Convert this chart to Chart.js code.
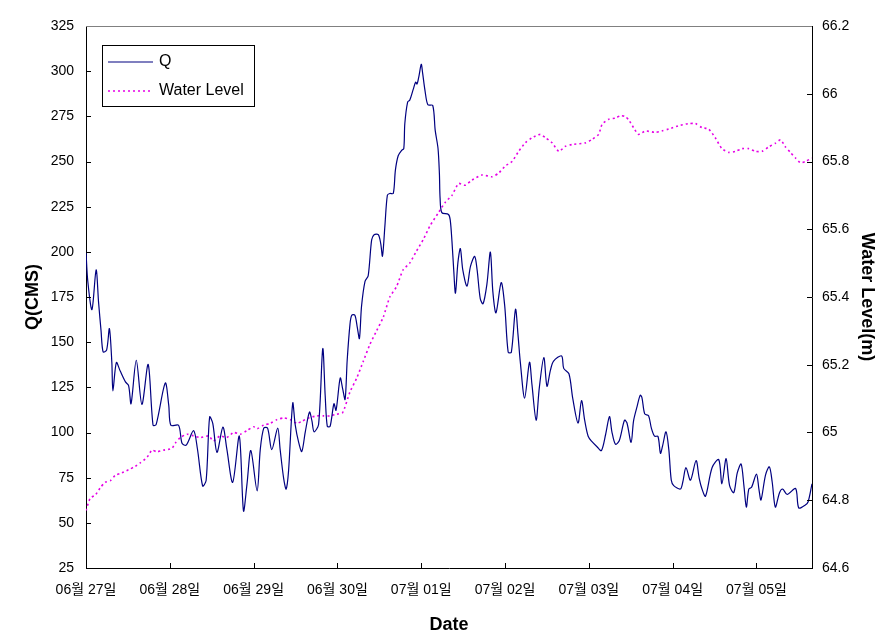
<!DOCTYPE html>
<html>
<head>
<meta charset="utf-8">
<script src="https://cdn.jsdelivr.net/npm/chart.js@4.4.0/dist/chart.umd.min.js"></script>
<style>
  body { margin: 0; background: #fff; }
</style>
</head>
<body>
<canvas id="myChart" width="892" height="641"></canvas>
<script>
// x axis runs in hours from 06/27 00:00
const dayLabels = ['06월 27일', '06월 28일', '06월 29일', '06월 30일', '07월 01일',
  '07월 02일', '07월 03일', '07월 04일', '07월 05일'];

// Q (CMS)
const qHours = [0, 0.5, 1.7, 2.9, 3.6, 4.3, 4.9, 5.9, 6.7, 7.4, 7.7, 8.7, 9.8, 11.3, 12.2, 12.9, 14.4, 16.0,
  17.8, 19.2, 20.1, 22.7, 23.7, 24.3, 26.5, 27.5, 28.7, 30.8, 31.9, 33.4, 34.4, 35.4, 36.3, 37.5, 39.2,
  40.3, 42.0, 43.9, 45.1, 46.1, 47.2, 49.0, 49.9, 50.9, 52.0, 53.2, 54.9, 55.6, 56.6, 57.3, 58.0, 59.2,
  59.9, 60.9, 61.8, 62.8, 64.0, 64.7, 65.3, 66.6, 67.8, 68.5, 69.1, 69.9, 71.0, 71.6, 72.8, 73.5, 74.2,
  74.8, 75.6, 76.1, 77.0, 77.7, 78.3, 78.9, 79.9, 80.8, 81.8, 82.5, 83.7, 84.4, 84.9, 85.6, 86.3, 87.0,
  88.0, 88.6, 89.4, 90.4, 91.0, 91.3, 92.1, 92.7, 93.7, 94.4, 94.8, 95.4, 96.0, 96.4, 97.1, 97.9, 99.3,
  100.0, 100.8, 101.2, 101.4, 101.9, 103.8, 104.3, 104.8, 105.3, 105.8, 106.5, 107.2, 107.9, 109.1,
  110.1, 111.3, 112.0, 112.9, 113.7, 114.8, 115.8, 116.5, 117.4, 118.9, 119.9, 120.9, 121.8, 123.0,
  123.7, 124.4, 125.6, 127.0, 127.7, 128.9, 129.8, 131.1, 132.0, 133.0, 133.9, 136.2, 136.8, 138.3,
  139.4, 140.9, 141.9, 142.8, 143.8, 144.9, 146.4, 147.6, 148.8, 149.9, 150.6, 151.6, 152.7, 154.2,
  154.9, 156.1, 156.8, 157.8, 158.7, 159.2, 160.0, 161.1, 161.9, 162.8, 163.8, 164.5, 165.1, 166.1,
  166.9, 167.6, 168.3, 170.2, 170.9, 171.8, 173.1, 174.7, 175.6, 176.4, 177.4, 179.3, 181.2, 182.1,
  183.3, 184.3, 185.5, 186.5, 187.6, 188.4, 189.1, 189.8, 190.6, 192.0, 192.7, 193.3, 194.6, 195.7,
  196.5, 197.4, 198.6, 199.5, 200.8, 203.2, 204.1, 205.9, 206.8, 207.9];
const qValues = [200, 184, 168, 190, 172, 156.5, 144.6, 145.6, 157.5, 138.7, 123, 138.7, 134, 128, 126, 116,
  140, 115.5, 137.7, 104, 104.5, 127.4, 115, 104, 104, 94, 93, 101, 91, 70.4, 73.4, 108.6, 105, 89, 103,
  91.2, 72.4, 98, 56.6, 71.4, 90, 67.7, 90.5, 102.4, 102.4, 90.5, 102.4, 90.5, 74.6, 68.7, 78.6, 116.3,
  104.4, 94.5, 89.5, 100.4, 111.3, 106.4, 100.4, 104.4, 146.4, 120.2, 103.4, 103.4, 115.9, 112.3, 130.2,
  124.2, 118.3, 140.1, 160, 164.9, 164.9, 158, 152, 169.8, 183.7, 186.7, 206.6, 209.5, 209.5, 204.6,
  197.6, 214.5, 231.3, 232.3, 232.3, 245.2, 253.2, 256.2, 257.1, 271, 282.9, 283.9, 289.9, 293.9, 292.9,
  297.8, 303.8, 298.9, 289, 281.4, 281, 267.2, 257.3, 243.4, 229.6, 221.7, 220.7, 217.7, 205.8, 190,
  177.1, 194, 201.8, 190, 181, 191.9, 197.5, 190, 174.1, 171.2, 182, 199.9, 178.1, 166.2, 183, 170.2,
  144.4, 144.4, 168.2, 154.3, 138.4, 119, 138.9, 126.6, 106.8, 124.6, 141.5, 125.6, 134.5, 139.5, 142.4,
  135.5, 132.5, 118.7, 105.2, 117.7, 106.8, 97.9, 94.9, 92, 90, 98.9, 108.8, 100.4, 93.5, 95.4, 106.8,
  105.4, 94.5, 106.4, 114.3, 120.6, 119.3, 110.3, 109.3, 102.4, 98, 97.8, 88.5, 92.5, 100.4, 90.5, 73.6,
  70.6, 68.7, 72.6, 80.6, 73.6, 84.5, 74.6, 68.7, 64.7, 80.6, 85, 71.6, 85.5, 70.6, 66.7, 77.6, 82.6,
  70.6, 58.7, 68.7, 69.7, 77, 68.7, 62.7, 76.6, 81, 72.6, 58.7, 66.7, 68.7, 65.7, 69, 58.3, 59.7, 61.7,
  71.6];

// Water level (m)
const wlHours = [0, 1.2, 2.7, 4.1, 5.5, 7.0, 8.4, 9.8, 12.2, 14.1, 15.5, 17.5, 18.9, 20.3, 22.2, 24.6, 25.6,
  27.0, 28.9, 30.8, 32.7, 35.1, 36.5, 38.4, 40.3, 42.3, 44.2, 46.1, 48.0, 49.0, 50.9, 52.8, 54.7, 56.6,
  58.5, 60.4, 61.8, 63.7, 66.1, 68.0, 69.9, 71.8, 73.5, 75.6, 77.5, 79.4, 81.3, 83.2, 85.1, 87.0, 88.9,
  90.8, 92.7, 94.6, 96.6, 98.5, 101.0, 102.9, 104.8, 106.7, 108.6, 110.5, 113.4, 116.3, 118.2, 120.1,
  122.0, 123.9, 125.8, 127.7, 130.1, 131.6, 133.5, 135.4, 137.3, 139.2, 143.0, 144.9, 146.8, 147.8,
  149.7, 151.6, 153.0, 154.4, 155.4, 156.8, 158.2, 160.2, 163.0, 164.9, 166.9, 170.2, 172.6, 174.5,
  176.4, 178.3, 180.2, 182.1, 184.1, 186.0, 187.9, 189.8, 191.7, 193.6, 195.5, 197.4, 198.9, 200.3,
  201.7, 203.2, 204.6, 206.0, 207.9];
const wlValues = [64.77, 64.806, 64.816, 64.837, 64.853, 64.858, 64.874, 64.879, 64.89, 64.9, 64.91, 64.927,
  64.948, 64.943, 64.948, 64.953, 64.969, 64.985, 64.995, 64.99, 64.985, 64.99, 64.975, 64.99, 64.985,
  65.0, 64.995, 65.006, 65.017, 65.011, 65.022, 65.027, 65.038, 65.043, 65.038, 65.027, 65.033, 65.043,
  65.049, 65.049, 65.049, 65.054, 65.059, 65.12, 65.16, 65.21, 65.26, 65.3, 65.34, 65.4, 65.43, 65.48,
  65.5, 65.535, 65.57, 65.61, 65.65, 65.68, 65.7, 65.735, 65.73, 65.745, 65.76, 65.755, 65.766, 65.787,
  65.8, 65.83, 65.855, 65.87, 65.88, 65.87, 65.855, 65.83, 65.845, 65.85, 65.855, 65.865, 65.88, 65.91,
  65.925, 65.928, 65.935, 65.933, 65.923, 65.9, 65.88, 65.89, 65.886, 65.89, 65.896, 65.907, 65.912,
  65.912, 65.9, 65.896, 65.87, 65.838, 65.827, 65.83, 65.838, 65.838, 65.83, 65.83, 65.843, 65.854,
  65.864, 65.843, 65.827, 65.81, 65.796, 65.8, 65.81];

Chart.defaults.font.family = "'Liberation Sans', 'Noto Sans CJK KR', sans-serif";
Chart.defaults.font.size = 14;
Chart.defaults.color = '#000';

const titleFont = { size: 18, weight: 'bold' };

// inward tick marks, grey top edge and the boxed legend
const frame = {
  id: 'frame',
  afterDraw(chart) {
    const { ctx, chartArea: a, scales } = chart;
    ctx.save();
    ctx.strokeStyle = '#000';
    ctx.lineWidth = 1;
    ctx.beginPath();
    scales.y.ticks.forEach(t => {
      const p = Math.round(scales.y.getPixelForValue(t.value)) + 0.5;
      ctx.moveTo(a.left, p); ctx.lineTo(a.left + 5, p);
    });
    scales.y2.ticks.forEach(t => {
      const p = Math.round(scales.y2.getPixelForValue(t.value)) + 0.5;
      ctx.moveTo(a.right - 5, p); ctx.lineTo(a.right, p);
    });
    scales.x.ticks.forEach(t => {
      const p = Math.round(scales.x.getPixelForValue(t.value)) + 0.5;
      ctx.moveTo(p, a.bottom); ctx.lineTo(p, a.bottom - 5);
    });
    ctx.stroke();

    ctx.strokeStyle = '#808080';
    ctx.beginPath();
    ctx.moveTo(a.left, a.top + 0.5); ctx.lineTo(a.right, a.top + 0.5);
    ctx.stroke();

    // legend
    const lx = a.left + 16, ly = a.top + 19;
    ctx.fillStyle = '#fff';
    ctx.fillRect(lx + 0.5, ly + 0.5, 152, 61);
    ctx.strokeStyle = '#000';
    ctx.strokeRect(lx + 0.5, ly + 0.5, 152, 61);
    ctx.font = "16px 'Liberation Sans', sans-serif";
    ctx.textBaseline = 'middle';
    chart.data.datasets.forEach((ds, i) => {
      const y = ly + 17 + i * 29;
      ctx.strokeStyle = ds.borderColor;
      ctx.lineWidth = ds.borderWidth;
      ctx.setLineDash(ds.borderDash || []);
      ctx.beginPath();
      ctx.moveTo(lx + 6, y); ctx.lineTo(lx + 51, y);
      ctx.stroke();
      ctx.setLineDash([]);
      ctx.fillStyle = '#000';
      ctx.fillText(ds.label, lx + 57, y);
    });
    ctx.restore();
  }
};

const ctx = document.getElementById('myChart').getContext('2d');
const myChart = new Chart(ctx, {
  type: 'line',
  data: {
    datasets: [{
      label: 'Q',
      data: qHours.map((h, i) => ({ x: h, y: qValues[i] })),
      yAxisID: 'y',
      borderColor: '#000080',
      borderWidth: 1.2,
      pointRadius: 0,
      tension: 0.3
    }, {
      label: 'Water Level',
      data: wlHours.map((h, i) => ({ x: h, y: wlValues[i] })),
      yAxisID: 'y2',
      borderColor: '#e600e6',
      borderWidth: 1.6,
      borderDash: [2, 3],
      pointRadius: 0,
      tension: 0.2
    }]
  },
  options: {
    responsive: false,
    animation: false,
    layout: { padding: { top: 26, left: 0, right: 0, bottom: 0 } },
    plugins: { legend: { display: false }, tooltip: { enabled: false } },
    scales: {
      x: {
        type: 'linear',
        min: 0,
        max: 207.9,
        grid: { display: false, drawTicks: false },
        border: { color: '#000', width: 1 },
        ticks: {
          stepSize: 24,
          includeBounds: false,
          autoSkip: false,
          maxRotation: 0,
          padding: 14,
          callback: v => dayLabels[v / 24] || ''
        },
        title: { display: true, text: 'Date', font: titleFont, padding: { top: 0, bottom: 5 } },
        afterFit: s => { s.height = 73; }
      },
      y: {
        position: 'left',
        min: 25,
        max: 325,
        grid: { display: false, drawTicks: false },
        border: { color: '#000', width: 1 },
        ticks: { stepSize: 25, padding: 12 },
        title: { display: true, text: 'Q(CMS)', font: titleFont, padding: { top: 22, bottom: 0 } },
        afterFit: s => { s.width = 86; }
      },
      y2: {
        position: 'right',
        min: 64.6,
        max: 66.2,
        grid: { display: false, drawTicks: false },
        border: { color: '#000', width: 1 },
        ticks: {
          stepSize: 0.2,
          padding: 10,
          callback: v => String(Math.round(v * 10) / 10)
        },
        title: { display: true, text: 'Water Level(m)', font: titleFont, padding: { top: 14, bottom: 0 } },
        afterFit: s => { s.width = 80; }
      }
    }
  },
  plugins: [frame]
});
</script>
</body>
</html>
